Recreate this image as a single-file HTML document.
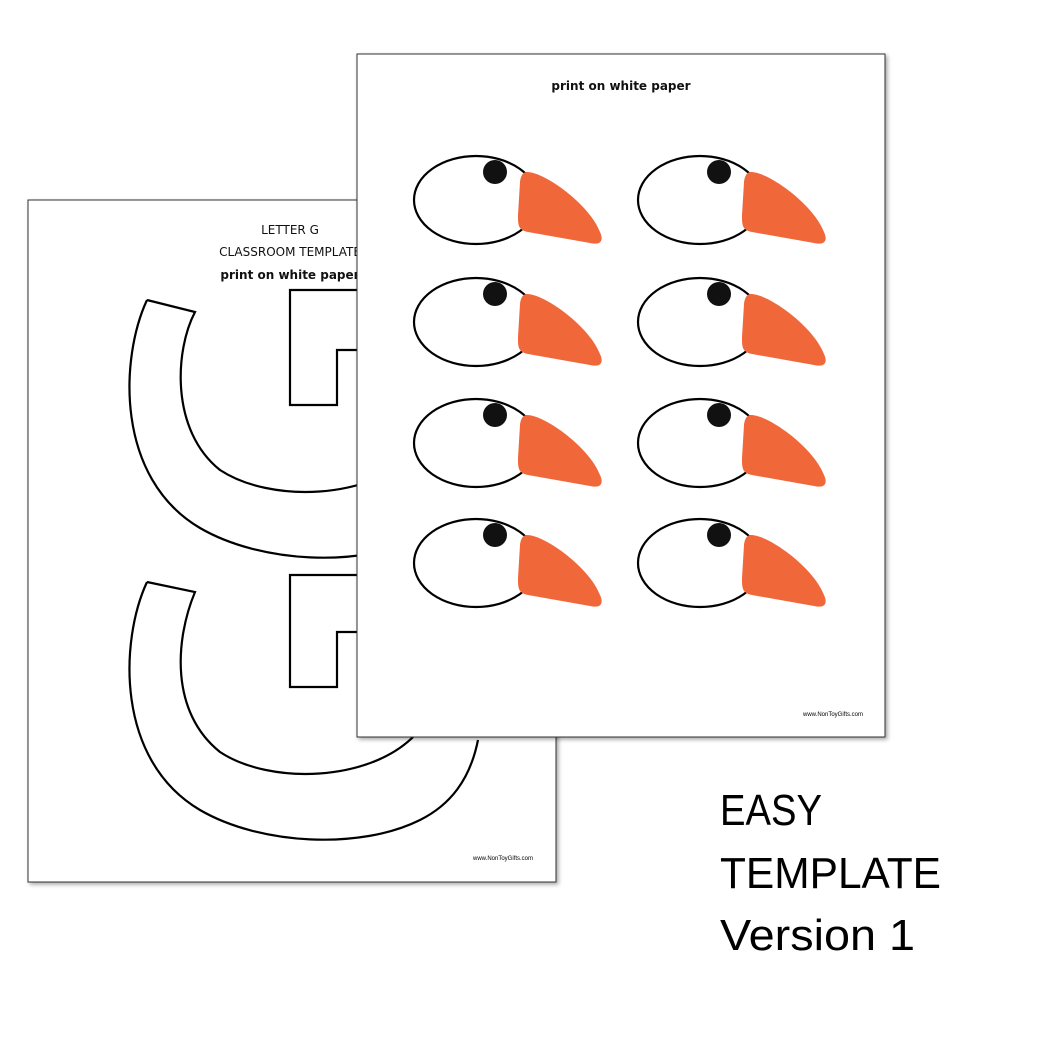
<!DOCTYPE html>
<html><head><style>
html,body{margin:0;padding:0;background:#fff;}
svg{display:block;}
</style></head><body>
<svg width="1056" height="1056" viewBox="0 0 1056 1056" xmlns="http://www.w3.org/2000/svg">
<defs>
<filter id="sh" x="-5%" y="-5%" width="110%" height="110%"><feDropShadow dx="2" dy="2" stdDeviation="2" flood-color="#000" flood-opacity="0.35"/></filter>
<g id="duck">
<ellipse cx="0" cy="0" rx="62" ry="44" fill="#fff" stroke="#000" stroke-width="2.2"/>
<circle cx="19" cy="-28" r="12" fill="#111"/>
<path d="M51,-28 C69,-28 114,5 124,32 C129,43 122,45 114,43 L52,32 C42,30 42,25 42,15 L44,-18 C45,-26 48,-28 51,-28 Z" fill="#f0673a"/>
</g>
</defs>
<rect x="28" y="200" width="528" height="682" fill="#fff" stroke="#333" stroke-width="1" filter="url(#sh)"/>
<g fill="none" stroke="#000" stroke-width="2.2">
<g>
<path d="M147,300 L195,312 C175,350 170,430 220,470 C270,503 370,500 415,453 M147,300 C120,358 115,478 200,528 C260,563 360,568 420,538 C450,523 470,498 478,458"/>
<path d="M357,290 L290,290 L290,405 L337,405 L337,350 L357,350"/>
</g>
<g>
<path d="M147,582 L195,592 C175,640 170,712 220,752 C270,785 370,782 415,735 M147,582 C120,640 115,760 200,810 C260,845 360,850 420,820 C450,805 470,780 478,740"/>
<path d="M357,575 L290,575 L290,687 L337,687 L337,632 L357,632"/>
</g>
</g>
<g font-family="'Comic Sans MS','DejaVu Sans',sans-serif" font-size="12" text-anchor="middle" fill="#111">
<text x="290" y="234">LETTER G</text>
<text x="290" y="256">CLASSROOM TEMPLATE</text>
<text x="290" y="279" font-weight="bold">print on white paper</text>
</g>
<text x="503" y="860" font-family="'Liberation Sans',sans-serif" font-size="6" text-anchor="middle">www.NonToyGifts.com</text>
<rect x="357" y="54" width="528" height="683" fill="#fff" stroke="#333" stroke-width="1" filter="url(#sh)"/>
<text x="621" y="90" font-family="'Comic Sans MS','DejaVu Sans',sans-serif" font-size="12" font-weight="bold" text-anchor="middle" fill="#111">print on white paper</text>
<use href="#duck" x="476" y="200"/><use href="#duck" x="700" y="200"/>
<use href="#duck" x="476" y="322"/><use href="#duck" x="700" y="322"/>
<use href="#duck" x="476" y="443"/><use href="#duck" x="700" y="443"/>
<use href="#duck" x="476" y="563"/><use href="#duck" x="700" y="563"/>
<text x="833" y="716" font-family="'Liberation Sans',sans-serif" font-size="6" text-anchor="middle">www.NonToyGifts.com</text>
<g font-family="'Liberation Sans',sans-serif" font-size="44" fill="#000">
<text x="720" y="825" textLength="102" lengthAdjust="spacingAndGlyphs">EASY</text>
<text x="720" y="888" textLength="221" lengthAdjust="spacingAndGlyphs">TEMPLATE</text>
<text x="720" y="950" textLength="195" lengthAdjust="spacingAndGlyphs">Version 1</text>
</g>
</svg>
</body></html>
